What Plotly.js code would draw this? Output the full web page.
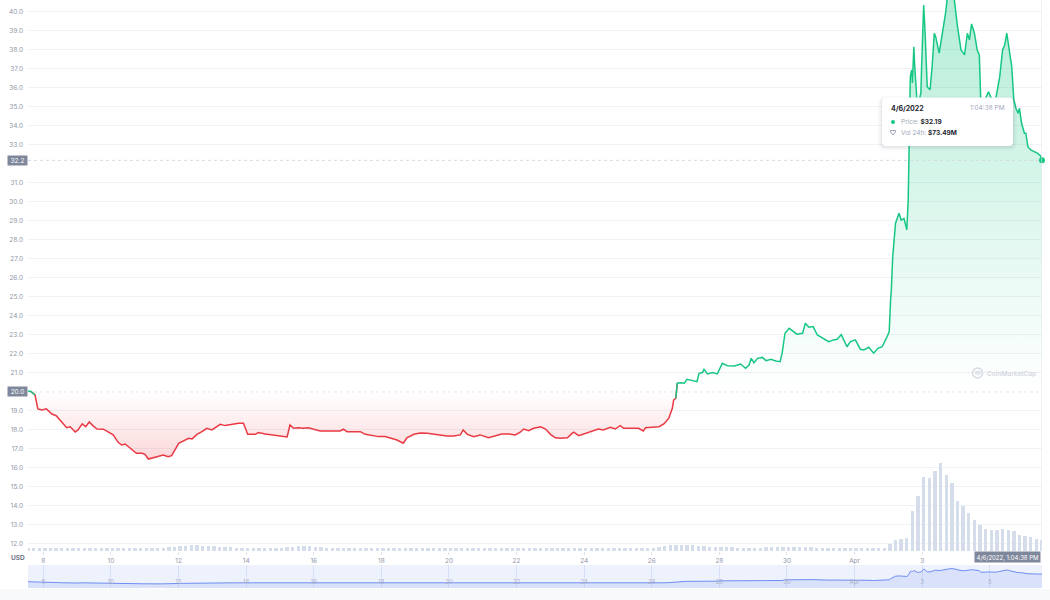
<!DOCTYPE html>
<html>
<head>
<meta charset="utf-8">
<script src="https://cdn.plot.ly/plotly-3.0.1.min.js"></script>
<style>html,body{margin:0;padding:0;background:#fff;}#chart{width:1050px;height:600px;}</style>
</head>
<body>
<div id="chart"></div>
<script>
// ---------- DATA ----------
const seriesStart = '2022-03-07T13:04:38Z';   // first sample time (UTC)
const openPrice = 20.0;                        // period open (baseline)
const hoursFromStart = [0,2,5,7,10,13,17,20,24,27.5,30,33.5,35.5,38.5,41,43.5,46,49,53.5,57,60.5,64,66.5,69,72.5,77,81,83,85.5,89,92.5,96,99.5,102,107,110.5,114,116.5,120,123.5,127,130.5,134,136.5,140,145,149.5,153,156,161.5,163.5,168.5,173,178,181.5,184,186,188.5,192,195.5,199,203,207.5,212.5,217,221.5,224,226.5,231,236,239.5,244,249,253.5,257,262,266.5,269,274,278.5,283.5,288,293,297.5,302,307,309,312,316.5,321,327,332,336.5,341.5,346,349.5,352,355.5,359,364,367.5,371,374.5,378,383,386.5,387.5,391,396,400.5,405,408.5,413.5,417,420.5,423,428,433.5,437,438.5,443,448,451.5,455,457.5,458.5,460,461,463.5,466,468,471.5,475,476.5,479,480,482.5,486,489.5,493,496.5,501.5,506,509.5,512,513.5,515.5,518,521.5,524,527.5,531,534,535.5,537.5,540.5,542.5,546,550,552,554.5,557.5,560.5,564,568.5,572,574.5,577.5,579,581.5,584,587.5,591,593.5,597,600.5,603.5,606.5,609.5,611.5,612.5,613,614,616,618.5,620,622,624,625,626.5,627.5,628,629,629.5,631.5,633,634,634.5,636,637,638.5,640.5,642,643.5,644.5,647,649.5,651.5,653,655,657.5,660,662.5,665,667,668.5,670,672,674,675.5,676.5,678,680,682,684,685,687,690,692,693.5,695,697,698.5,700,701.5,703,704,705.5,707.5,708.5,710,712,714.5,717,719,720];
const priceUSD = [20.05,20.03,19.84,19.11,19.05,19.11,18.84,18.75,18.44,18.12,18.17,17.89,18.00,18.32,18.17,18.42,18.23,18.05,18.04,17.91,17.74,17.35,17.21,17.26,17.04,16.77,16.77,16.72,16.47,16.54,16.65,16.68,16.59,16.65,17.30,17.42,17.56,17.53,17.77,17.91,18.09,18.00,18.17,18.30,18.23,18.30,18.35,18.35,17.77,17.77,17.86,17.79,17.74,17.70,17.65,17.63,18.26,18.09,18.12,18.09,18.12,18.04,17.95,17.95,17.95,17.95,18.04,17.91,17.91,17.91,17.77,17.70,17.65,17.65,17.56,17.47,17.30,17.59,17.77,17.84,17.83,17.77,17.70,17.68,17.68,17.74,18.00,17.77,17.65,17.74,17.59,17.70,17.79,17.79,17.74,17.88,18.05,17.96,18.09,18.17,18.05,17.77,17.59,17.56,17.59,17.83,17.88,17.70,17.83,17.91,18.05,18.00,18.14,18.05,18.23,18.09,18.09,18.09,17.95,18.12,18.14,18.17,18.32,18.62,19.14,19.58,19.67,20.46,20.49,20.46,20.67,20.59,20.54,20.98,21.02,21.19,20.95,21.02,20.95,21.51,21.38,21.37,21.47,21.25,21.42,21.77,21.54,21.77,21.82,21.65,21.72,21.63,21.59,22.04,23.09,23.35,23.23,23.04,23.09,23.62,23.41,23.44,23.00,22.83,22.65,22.74,22.77,23.02,22.77,22.38,22.65,22.74,22.25,22.21,22.35,22.04,22.30,22.38,22.83,23.17,24.84,25.37,27.12,28.88,29.41,29.05,29.14,28.53,30.10,36.60,36.95,36.26,38.17,37.30,35.02,35.37,35.72,37.12,40.37,38.88,36.07,35.90,37.12,38.88,38.70,37.83,38.88,39.93,40.90,41.05,40.80,39.23,38.00,37.74,38.88,38.53,39.37,38.88,38.00,37.74,35.37,35.02,35.46,35.80,35.46,35.02,35.37,36.60,38.00,38.26,38.88,37.83,37.12,35.37,34.93,34.67,34.93,34.14,33.62,33.62,32.91,32.74,32.65,32.56,32.42,32.19];
// 24h volume (USD millions), one bar every 4 hours from the first sample
const volumeStepHours = 4;
const volume24hM = [20,20,23,23,20,20,20,20, 20,20,20,20,20,23,20,20, 23,23,23,20,20,20,20,20, 23,27,27,33,33,37,37,33, 33,33,30,30,27,23,20,20, 20,20,20,20,20,23,27,30, 33,33,33,30,27,23,20,20, 20,20,17,17,17,17,17,17, 17,17,17,17,17,17,17,17, 17,17,17,17,17,17,17,17, 17,17,17,17,17,17,20,20, 20,20,20,20,17,17,17,17, 17,17,17,17,17,17,17,17, 17,17,17,20,20,20,20,23, 27,33,37,40,40,40,37,33, 33,30,27,27,27,27,23,23, 23,23,23,27,27,30,30,30, 30,30,27,27,23,23,20,20, 20,20,20,20,20,20,20,20, 23,47,73,80,87,267,367,494, 488,534,588,508,454,334,301,254, 207,174,147,140,140,147,140,134, 107,100,94,80,73.49];
const tickDates = ['2022-03-08','2022-03-10','2022-03-12','2022-03-14','2022-03-16','2022-03-18','2022-03-20','2022-03-22','2022-03-24','2022-03-26','2022-03-28','2022-03-30','2022-04-01','2022-04-03','2022-04-05'];
const tickLabels = ['8','10','12','14','16','18','20','22','24','26','28','30','Apr','3','5'];
const priceTicks = [12,13,14,15,16,17,18,19,21,22,23,24,25,26,27,28,29,30,31,33,34,35,36,37,38,39,40]; // 20 and 32 sit under the marker labels
const hoverDate = '4/6/2022';
const hoverTime = '1:04:38 PM';

// ---------- helpers ----------
const t0 = Date.parse(seriesStart);
const toDate = h => new Date(t0 + h * 3600000).toISOString().replace('T', ' ').slice(0, 19);
const times = hoursFromStart.map(toDate);
const volTimes = volume24hM.map((_, i) => toDate(i * volumeStepHours));
const lastIdx = priceUSD.length - 1;
const lastPrice = priceUSD[lastIdx];
const lastVol = volume24hM[volume24hM.length - 1];

const W = 1050, H = 600, ML = 28, MR = 8;
const PW = W - ML - MR;
const px = x => (x - ML) / PW;
const py = y => (H - y) / H;

const GREEN = '#16c784', RED = '#ea3943';
const above = priceUSD.map(p => Math.max(p, openPrice));
const below = priceUSD.map(p => Math.min(p, openPrice));
const base = priceUSD.map(() => openPrice);
const isUp = p => p >= openPrice;
const greenLine = priceUSD.map((p, i) => (isUp(p) || (i > 0 && isUp(priceUSD[i-1])) || (i < lastIdx && isUp(priceUSD[i+1]))) ? p : null);
const redLine = priceUSD.map((p, i) => (!isUp(p) || (i > 0 && !isUp(priceUSD[i-1])) || (i < lastIdx && !isUp(priceUSD[i+1]))) ? p : null);

const traces = [
  { type: 'bar', x: volTimes, y: volume24hM, xaxis: 'x', yaxis: 'y',
    marker: { color: '#d5dcea', line: { width: 0 } }, width: volumeStepHours * 3600000 * 0.6 },
  { type: 'scatter', mode: 'lines', x: times, y: base, yaxis: 'y2', line: { width: 0 }, hoverinfo: 'skip' },
  { type: 'scatter', mode: 'lines', x: times, y: above, yaxis: 'y2', line: { width: 0 }, fill: 'tonexty',
    fillcolor: 'rgba(22,199,132,0.15)',
    fillgradient: { type: 'vertical', start: openPrice, stop: 40.6,
      colorscale: [[0, 'rgba(22,199,132,0.0)'], [1, 'rgba(22,199,132,0.32)']] } },
  { type: 'scatter', mode: 'lines', x: times, y: base, yaxis: 'y2', line: { width: 0 }, hoverinfo: 'skip' },
  { type: 'scatter', mode: 'lines', x: times, y: below, yaxis: 'y2', line: { width: 0 }, fill: 'tonexty',
    fillcolor: 'rgba(234,57,67,0.1)',
    fillgradient: { type: 'vertical', start: 16.4, stop: openPrice,
      colorscale: [[0, 'rgba(234,57,67,0.2)'], [1, 'rgba(234,57,67,0.0)']] } },
  { type: 'scatter', mode: 'lines', x: times, y: redLine, yaxis: 'y2', line: { color: RED, width: 1.5 }, connectgaps: false },
  { type: 'scatter', mode: 'lines', x: times, y: greenLine, yaxis: 'y2', line: { color: GREEN, width: 1.5 }, connectgaps: false },
  { type: 'scatter', mode: 'markers', x: [times[lastIdx]], y: [lastPrice], yaxis: 'y2', cliponaxis: false,
    marker: { color: GREEN, size: 6 } },
  { type: 'scatter', mode: 'lines', x: times, y: priceUSD, xaxis: 'x2', yaxis: 'y3',
    line: { color: '#6f8df1', width: 1 }, fill: 'tozeroy', fillcolor: 'rgba(120,146,240,0.16)' }
];

function rrect(x0, y0, x1, y1, r) {
  const P = (x, y) => px(x).toFixed(5) + ',' + py(y).toFixed(5);
  return 'M' + P(x0 + r, y0) + ' L' + P(x1 - r, y0) + ' Q' + P(x1, y0) + ' ' + P(x1, y0 + r) +
    ' L' + P(x1, y1 - r) + ' Q' + P(x1, y1) + ' ' + P(x1 - r, y1) +
    ' L' + P(x0 + r, y1) + ' Q' + P(x0, y1) + ' ' + P(x0, y1 - r) +
    ' L' + P(x0, y0 + r) + ' Q' + P(x0, y0) + ' ' + P(x0 + r, y0) + ' Z';
}
function ppath(pts) {
  return 'M' + pts.map(p => px(p[0]).toFixed(5) + ',' + py(p[1]).toFixed(5)).join(' L') + ' Z';
}

const shapes = [
  // navigator background
  { type: 'rect', xref: 'x2 domain', yref: 'y3 domain', x0: 0, x1: 1, y0: 0, y1: 1, fillcolor: '#eef2fd', line: { width: 0 }, layer: 'below' },
  { type: 'rect', xref: 'paper', yref: 'paper', x0: px(0), x1: px(1050), y0: 0, y1: py(589), fillcolor: '#f8f9fb', line: { width: 0 }, layer: 'below' },
  // baseline and crosshair lines
  { type: 'line', xref: 'paper', yref: 'y2', x0: 0, x1: 1, y0: openPrice, y1: openPrice, line: { color: '#e2e5ec', width: 1, dash: 'dot' }, layer: 'below' },
  { type: 'line', xref: 'paper', yref: 'y2', x0: 0, x1: 1, y0: lastPrice, y1: lastPrice, line: { color: '#d5d9e2', width: 1, dash: 'dot' } },
  { type: 'line', xref: 'x', yref: 'paper', x0: times[lastIdx], x1: times[lastIdx], y0: py(551), y1: 1, line: { color: '#e3e6ed', width: 1 } },
  // watermark logo
  { type: 'circle', xref: 'paper', yref: 'paper', x0: px(972.5), x1: px(982.5), y0: py(378), y1: py(368), line: { color: '#d5dae3', width: 1.4 }, fillcolor: 'rgba(0,0,0,0)' },
  // tooltip
  { type: 'path', xref: 'paper', yref: 'paper', path: rrect(878, 96, 1017, 151, 8), fillcolor: 'rgba(30,40,70,0.025)', line: { width: 0 } },
  { type: 'path', xref: 'paper', yref: 'paper', path: rrect(879.5, 97, 1015.5, 149, 6), fillcolor: 'rgba(30,40,70,0.035)', line: { width: 0 } },
  { type: 'path', xref: 'paper', yref: 'paper', path: rrect(881, 98, 1014, 147.5, 5), fillcolor: 'rgba(30,40,70,0.05)', line: { width: 0 } },
  { type: 'path', xref: 'paper', yref: 'paper', path: rrect(882, 97.5, 1013, 146, 4), fillcolor: '#ffffff', line: { width: 0 } },
  { type: 'circle', xref: 'paper', yref: 'paper', x0: px(891), x1: px(895), y0: py(124), y1: py(120), fillcolor: GREEN, line: { width: 0 } },
  { type: 'path', xref: 'paper', yref: 'paper', path: ppath([[890.5, 130.5], [895.5, 130.5], [895.5, 132], [893, 135], [890.5, 132]]), fillcolor: 'rgba(0,0,0,0)', line: { color: '#a1a7bb', width: 1 } }
];

const F = (size, color, weight) => ({ family: 'Inter, sans-serif', size: size, color: color, weight: weight || 400 });
const axisFont = F(6.5, '#8f96a8');
const ann = (o) => Object.assign({ showarrow: false, xanchor: 'center', yanchor: 'middle', xref: 'paper', yref: 'paper' }, o);
const annotations = [
  ann({ yref: 'y2', x: px(17.5), y: lastPrice, text: lastPrice.toFixed(1),
    font: F(6.5, '#ffffff'), bgcolor: '#7e879b', width: 17, height: 7, borderpad: 1 }),
  ann({ yref: 'y2', x: px(17.5), y: openPrice, text: openPrice.toFixed(1),
    font: F(6.5, '#ffffff'), bgcolor: '#7e879b', width: 17, height: 7, borderpad: 1 }),
  ann({ x: px(17.5), y: py(558), text: 'USD', font: F(6.5, '#6b7286', 700) }),
  ann({ x: px(1041), xanchor: 'right', y: py(556.5), text: hoverDate + ', ' + hoverTime,
    font: F(6, '#ffffff'), bgcolor: '#7e879b', borderpad: 1.5 }),
  ann({ x: px(985), xanchor: 'left', y: py(373.5), text: 'CoinMarketCap', font: F(6.5, '#d3d8e2', 600) }),
  ann({ x: px(977.5), y: py(373), text: 'm', font: F(6, '#d3d8e2', 700) }),
  ann({ x: px(889), xanchor: 'left', y: py(108), text: hoverDate, font: F(7, '#222531', 700) }),
  ann({ x: px(1006.5), xanchor: 'right', y: py(108), text: hoverTime, font: F(6.5, '#a1a7bb') }),
  ann({ x: px(899), xanchor: 'left', y: py(122),
    text: '<span style="color:#a1a7bb">Price:</span> <b>$' + lastPrice.toFixed(2) + '</b>', font: F(6.5, '#222531') }),
  ann({ x: px(899), xanchor: 'left', y: py(133),
    text: '<span style="color:#a1a7bb">Vol 24h:</span> <b>$' + lastVol.toFixed(2) + 'M</b>', font: F(6.5, '#222531') })
];

const layout = {
  width: W, height: H,
  margin: { l: ML, r: MR, t: 0, b: 0, pad: 0 },
  paper_bgcolor: '#ffffff', plot_bgcolor: '#ffffff',
  showlegend: false, hovermode: false,
  font: { family: 'Inter, sans-serif' },
  bargap: 0,
  xaxis: { type: 'date', domain: [0, 1], anchor: 'y', range: [times[0], times[lastIdx]],
    // the last tick label sits under the crosshair date label, as in the source
    tickvals: tickDates.slice(0, -1), ticktext: tickLabels.slice(0, -1), ticks: 'outside', ticklen: 3, tickcolor: '#dfe3ea',
    tickfont: axisFont, showgrid: false, zeroline: false, showline: false, fixedrange: true },
  yaxis: { domain: [py(551), 1], range: [0, 3680], visible: false, fixedrange: true },
  yaxis2: { overlaying: 'y', side: 'left', anchor: 'x', range: [11.63, 40.63],
    tickvals: priceTicks, ticktext: priceTicks.map(v => v.toFixed(1)),
    showgrid: true, gridcolor: '#f1f2f6', gridwidth: 1, zeroline: false, showline: false, ticks: '',
    tickfont: axisFont, ticklabelstandoff: 4, fixedrange: true },
  xaxis2: { type: 'date', domain: [0, 1], anchor: 'y3', range: [times[0], times[lastIdx]],
    tickvals: tickDates, ticktext: tickLabels, ticklabelposition: 'inside', ticks: '',
    tickfont: F(6, '#a9b1c8'),
    showgrid: true, gridcolor: '#d8dff6', zeroline: false, showline: false, fixedrange: true },
  yaxis3: { domain: [py(588), py(565)], range: [10, 46.9], visible: false, fixedrange: true },
  shapes: shapes,
  annotations: annotations
};

Plotly.newPlot('chart', traces, layout, { staticPlot: true, displayModeBar: false });
</script>
</body>
</html>
